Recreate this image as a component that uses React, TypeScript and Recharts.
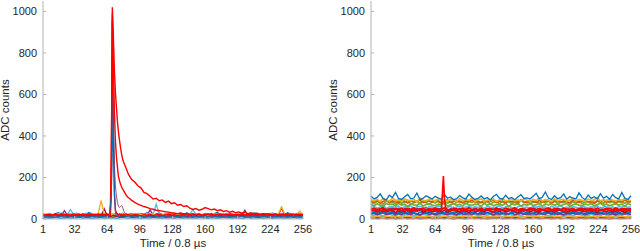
import React from 'react';
import { LineChart, Line, XAxis, YAxis } from 'recharts';

// sample times (every 3rd sample)
const tCoarse = [1, 4, 7, 10, 13, 16, 19, 22, 25, 28, 31, 34, 37, 40, 43, 46, 49, 52, 55, 58, 61, 64, 67, 70, 73, 76, 79, 82, 85, 88, 91, 94, 97, 100, 103, 106, 109, 112, 115, 118, 121, 124, 127, 130, 133, 136, 139, 142, 145, 148, 151, 154, 157, 160, 163, 166, 169, 172, 175, 178, 181, 184, 187, 190, 193, 196, 199, 202, 205, 208, 211, 214, 217, 220, 223, 226, 229, 232, 235, 238, 241, 244, 247, 250, 253, 256];
// denser sampling round the pulse (left panel)
const tPulse = [1, 4, 7, 10, 13, 16, 19, 22, 25, 28, 31, 34, 37, 40, 43, 46, 49, 52, 55, 58, 61, 64, 65, 66, 67, 68, 69, 70, 71, 72, 73, 74, 75, 76, 77, 78, 79, 80, 81, 82, 83, 84, 85, 88, 91, 94, 97, 100, 103, 106, 109, 112, 115, 118, 121, 124, 127, 130, 133, 136, 139, 142, 145, 148, 151, 154, 157, 160, 163, 166, 169, 172, 175, 178, 181, 184, 187, 190, 193, 196, 199, 202, 205, 208, 211, 214, 217, 220, 223, 226, 229, 232, 235, 238, 241, 244, 247, 250, 253, 256];
// right panel spike trace
const tSpike = [1, 4, 7, 10, 13, 16, 19, 22, 25, 28, 31, 34, 37, 40, 43, 46, 49, 52, 55, 58, 61, 64, 67, 70, 71, 72, 73, 74, 75, 76, 79, 82, 85, 88, 91, 94, 97, 100, 103, 106, 109, 112, 115, 118, 121, 124, 127, 130, 133, 136, 139, 142, 145, 148, 151, 154, 157, 160, 163, 166, 169, 172, 175, 178, 181, 184, 187, 190, 193, 196, 199, 202, 205, 208, 211, 214, 217, 220, 223, 226, 229, 232, 235, 238, 241, 244, 247, 250, 253, 256];

const xTicks = [1, 32, 64, 96, 128, 160, 192, 224, 256];
const yTicks = [0, 200, 400, 600, 800, 1000];

// ---- left panel: baseline noise ----
const lBlue = [24, 21, 27, 19, 25, 30, 22, 18, 26, 23, 20, 28, 24, 17, 22, 31, 25, 21, 19, 27, 23, 26, 20, 24, 29, 18, 22, 25, 21, 27, 24, 19, 26, 23, 30, 21, 17, 25, 28, 22, 20, 24, 27, 19, 23, 26, 21, 29, 24, 18, 22, 25, 20, 27, 23, 19, 26, 31, 22, 24, 21, 28, 23, 18, 25, 27, 20, 24, 22, 29, 26, 19, 23, 25, 21, 28, 24, 20, 26, 23, 30, 22, 19, 25, 27, 24];
const lOrange = [14, 17, 12, 16, 19, 13, 15, 18, 11, 16, 14, 20, 13, 15, 17, 12, 16, 14, 19, 13, 15, 17, 12, 18, 14, 16, 13, 15, 20, 12, 17, 14, 16, 13, 18, 15, 11, 16, 14, 19, 13, 15, 17, 12, 16, 14, 18, 13, 15, 17, 12, 16, 19, 14, 13, 17, 15, 12, 18, 14, 16, 13, 15, 19, 12, 17, 14, 16, 13, 15, 18, 12, 16, 14, 17, 13, 15, 19, 14, 16, 12, 17, 15, 13, 16, 14];
const lYellow = [22, 18, 25, 20, 16, 23, 27, 19, 21, 24, 18, 26, 20, 22, 17, 25, 21, 19, 23, 90, 24, 20, 18, 26, 22, 19, 25, 21, 17, 23, 27, 20, 22, 18, 24, 21, 26, 19, 23, 20, 17, 25, 22, 28, 19, 21, 24, 18, 26, 20, 23, 19, 22, 25, 17, 21, 24, 20, 27, 18, 22, 25, 19, 23, 21, 26, 18, 24, 20, 22, 27, 19, 23, 21, 25, 18, 22, 26, 58, 24, 20, 23, 19, 25, 38, 21];
const lPurple = [16, 19, 14, 18, 21, 15, 17, 40, 19, 16, 20, 14, 18, 22, 15, 17, 19, 13, 16, 20, 18, 15, 21, 17, 14, 19, 16, 22, 18, 15, 17, 20, 14, 19, 16, 45, 18, 21, 15, 17, 19, 14, 20, 16, 18, 22, 15, 17, 19, 13, 16, 21, 18, 15, 20, 17, 14, 19, 16, 22, 18, 15, 17, 20, 14, 19, 42, 16, 21, 18, 15, 17, 20, 14, 19, 16, 22, 18, 15, 17, 20, 14, 19, 16, 18, 21];
const lGreen = [11, 13, 9, 14, 12, 10, 15, 12, 8, 13, 11, 14, 10, 12, 15, 9, 13, 11, 14, 10, 12, 15, 9, 13, 11, 14, 12, 10, 13, 16, 11, 9, 14, 12, 10, 13, 15, 11, 12, 9, 14, 12, 10, 13, 11, 15, 12, 9, 14, 11, 13, 10, 12, 16, 11, 13, 9, 14, 12, 10, 15, 11, 13, 12, 9, 14, 11, 13, 10, 12, 15, 11, 9, 13, 12, 14, 10, 13, 11, 15, 12, 10, 14, 11, 13, 12];
const lLightBlue = [24, 20, 27, 22, 19, 25, 29, 21, 23, 45, 22, 26, 20, 24, 28, 21, 19, 25, 23, 27, 20, 24, 22, 26, 19, 23, 28, 21, 25, 20, 24, 27, 22, 19, 26, 23, 21, 72, 24, 20, 27, 22, 25, 19, 23, 28, 21, 24, 20, 46, 22, 26, 19, 24, 21, 27, 23, 20, 25, 22, 28, 19, 24, 21, 26, 23, 20, 25, 22, 27, 19, 24, 21, 26, 23, 28, 20, 22, 25, 21, 24, 27, 20, 23, 26, 22];
const lDarkRed = [13, 16, 11, 15, 18, 12, 14, 17, 10, 15, 13, 19, 12, 14, 16, 11, 15, 13, 17, 12, 50, 16, 12, 18, 13, 15, 11, 14, 17, 12, 16, 13, 15, 10, 14, 17, 12, 15, 13, 18, 11, 14, 16, 12, 15, 13, 17, 11, 14, 16, 12, 15, 18, 13, 11, 16, 14, 12, 17, 13, 15, 11, 14, 18, 12, 16, 13, 15, 11, 14, 17, 12, 15, 13, 16, 11, 14, 18, 55, 15, 12, 14, 17, 11, 16, 13];
const lBlueLow = [5, 7, 4, 6, 8, 5, 3, 6, 7, 4, 6, 5, 8, 4, 6, 7, 3, 5, 6, 8, 4, 6, 5, 7, 3, 6, 8, 5, 4, 7, 6, 5, 3, 7, 6, 4, 8, 5, 6, 4, 7, 5, 6, 3, 8, 6, 4, 7, 5, 6, 4, 8, 5, 6, 3, 7, 5, 4, 6, 8, 5, 6, 4, 7, 5, 3, 6, 8, 4, 5, 7, 6, 4, 5, 8, 3, 6, 5, 7, 4, 6, 5, 8, 4, 6, 5];

// ---- left panel: pulse traces (on tPulse) ----
const pRedLong = [20, 17, 23, 19, 22, 18, 25, 21, 16, 20, 24, 19, 22, 17, 21, 25, 18, 20, 23, 19, 22, 20,
  21, 19, 24, 180, 1020, 880, 720, 610, 540, 470, 420, 380, 345, 315, 290, 275, 262, 250, 238, 225, 214,
  190, 178, 160, 150, 128, 122, 110, 96, 100, 88, 92, 80, 86, 74, 78, 66, 70, 60, 64, 52, 46, 50, 42, 47, 55, 50, 44, 48, 40, 44, 36, 40, 33, 37, 30, 34, 28, 32, 26, 30, 24, 28, 22, 26, 21, 25, 20, 24, 19, 23, 18, 22, 20, 24, 19, 22, 20];
const pRedMid = [18, 22, 16, 20, 24, 17, 19, 23, 21, 15, 19, 22, 18, 24, 16, 20, 21, 17, 23, 18, 20, 19,
  20, 22, 18, 150, 990, 760, 520, 380, 300, 250, 205, 185, 168, 155, 145, 138, 128, 120, 112, 106, 102,
  90, 80, 72, 66, 60, 56, 50, 47, 42, 40, 38, 35, 33, 30, 28, 26, 29, 24, 27, 22, 25, 21, 24, 19, 23, 20, 25, 18, 22, 24, 19, 21, 23, 18, 22, 20, 24, 19, 21, 17, 23, 20, 22, 18, 24, 19, 21, 23, 20, 18, 22, 25, 19, 21, 23, 20, 18];
const pRedFast = [17, 21, 15, 19, 23, 16, 20, 18, 22, 14, 18, 21, 17, 23, 19, 15, 20, 22, 16, 19, 21, 18,
  19, 17, 22, 300, 960, 400, 120, 45, 28, 22, 19, 24, 18, 21, 17, 23, 20, 18, 22, 19, 21,
  17, 22, 19, 15, 21, 18, 23, 16, 20, 22, 17, 19, 24, 18, 21, 16, 20, 23, 19, 17, 22, 18, 21, 15, 20, 24, 19, 17, 22, 18, 20, 23, 16, 21, 19, 18, 22, 17, 20, 24, 19, 16, 21, 18, 23, 20, 17, 22, 19, 15, 21, 18, 24, 20, 17, 22, 19];
const pBlue = [12, 15, 10, 14, 17, 11, 13, 16, 9, 14, 12, 15, 11, 13, 16, 10, 14, 12, 15, 11, 13, 14,
  12, 15, 60, 110, 320, 590, 140, 35, 16, 12, 15, 11, 13, 16, 10, 14, 12, 15, 11, 13, 14,
  12, 15, 10, 14, 13, 16, 11, 14, 12, 15, 10, 13, 16, 11, 14, 12, 15, 10, 13, 17, 11, 14, 12, 15, 10, 13, 16, 12, 14, 11, 15, 13, 10, 14, 12, 16, 11, 13, 15, 10, 14, 12, 16, 11, 13, 15, 10, 14, 12, 13, 16, 11, 14, 12, 15, 10, 13];
const pMauve = [10, 13, 8, 12, 15, 9, 11, 14, 7, 12, 10, 13, 9, 11, 14, 8, 12, 10, 13, 9, 11, 12,
  11, 14, 20, 250, 600, 420, 260, 160, 110, 80, 62, 55, 60, 65, 58, 42, 32, 26, 22, 18, 16,
  13, 10, 15, 9, 12, 14, 11, 8, 13, 10, 15, 12, 9, 14, 11, 10, 13, 16, 9, 12, 11, 14, 10, 13, 8, 12, 15, 11, 9, 13, 10, 14, 12, 8, 15, 11, 13, 9, 12, 14, 10, 16, 11, 13, 9, 12, 10, 14, 11, 15, 8, 13, 12, 10, 14, 11, 12];

// ---- right panel: noise band ----
const rBlueTop = [110, 96, 104, 121, 98, 92, 115, 103, 128, 99, 94, 107, 118, 97, 101, 125, 93, 99, 112, 104, 96, 109, 101, 95, 118, 100, 106, 93, 98, 113, 102, 97, 120, 105, 94, 99, 111, 96, 103, 92, 108, 119, 100, 95, 114, 98, 104, 93, 106, 117, 99, 102, 96, 110, 124, 97, 105, 130, 101, 94, 112, 98, 103, 121, 95, 108, 100, 97, 126, 104, 93, 115, 99, 107, 96, 122, 101, 109, 95, 118, 103, 97, 128, 100, 94, 112];
const rYellow = [92, 87, 95, 84, 98, 90, 86, 101, 89, 93, 85, 97, 91, 88, 94, 83, 99, 90, 87, 96, 92, 85, 100, 89, 93, 86, 95, 91, 84, 98, 88, 94, 90, 103, 86, 92, 97, 85, 91, 89, 96, 84, 93, 99, 87, 90, 95, 88, 92, 86, 98, 91, 85, 94, 89, 102, 87, 93, 90, 84, 97, 88, 92, 95, 86, 91, 99, 87, 94, 90, 85, 96, 89, 92, 104, 87, 93, 88, 97, 91, 86, 95, 89, 100, 92, 88];
const rOrange = [86, 81, 89, 78, 84, 92, 80, 87, 83, 79, 90, 85, 77, 88, 82, 86, 91, 79, 84, 87, 81, 89, 83, 78, 86, 92, 80, 85, 88, 82, 79, 87, 84, 90, 81, 86, 78, 89, 83, 85, 91, 80, 87, 82, 79, 88, 84, 86, 81, 93, 83, 78, 87, 85, 80, 89, 82, 86, 90, 79, 84, 88, 81, 87, 83, 78, 91, 85, 80, 86, 89, 82, 84, 79, 87, 83, 90, 81, 85, 88, 80, 86, 83, 91, 84, 82];
const rGreen = [80, 74, 85, 77, 71, 88, 79, 82, 73, 86, 76, 81, 90, 72, 78, 84, 75, 87, 79, 70, 83, 77, 89, 74, 81, 76, 85, 72, 80, 87, 78, 73, 84, 79, 91, 75, 82, 77, 86, 71, 80, 85, 74, 88, 78, 83, 76, 81, 72, 89, 79, 84, 75, 80, 87, 73, 82, 78, 85, 76, 90, 74, 81, 79, 86, 72, 83, 77, 88, 75, 80, 84, 78, 73, 87, 81, 76, 89, 79, 83, 74, 85, 80, 77, 82, 86];
const rGreen2 = [70, 64, 73, 67, 61, 75, 69, 72, 63, 76, 66, 71, 60, 74, 68, 65, 77, 62, 70, 73, 67, 64, 72, 69, 75, 61, 68, 74, 66, 71, 63, 77, 69, 65, 72, 70, 62, 75, 67, 73, 64, 69, 71, 66, 76, 60, 72, 68, 74, 63, 70, 67, 73, 65, 69, 76, 62, 71, 68, 74, 66, 72, 64, 70, 75, 61, 69, 73, 67, 65, 71, 68, 74, 63, 70, 76, 66, 72, 64, 69, 73, 67, 71, 62, 75, 68];
const rLightBlue = [55, 61, 52, 58, 64, 50, 57, 60, 54, 62, 49, 59, 56, 63, 51, 58, 61, 55, 48, 60, 57, 53, 64, 59, 52, 56, 62, 50, 58, 61, 54, 57, 63, 51, 59, 55, 60, 49, 62, 56, 53, 58, 64, 52, 57, 61, 55, 50, 59, 63, 54, 57, 51, 60, 56, 62, 53, 58, 49, 61, 55, 59, 64, 52, 57, 54, 60, 56, 51, 62, 58, 53, 59, 55, 63, 50, 57, 61, 54, 58, 52, 60, 56, 62, 55, 59];
const rPurple = [46, 52, 43, 50, 55, 41, 48, 53, 45, 51, 40, 49, 54, 44, 47, 52, 42, 50, 56, 45, 48, 43, 51, 47, 53, 40, 49, 55, 44, 50, 46, 42, 52, 48, 54, 41, 47, 51, 45, 49, 53, 43, 50, 46, 55, 42, 48, 52, 44, 47, 51, 40, 49, 54, 45, 50, 43, 48, 53, 46, 41, 52, 47, 50, 44, 55, 49, 42, 51, 46, 53, 45, 48, 40, 50, 54, 43, 47, 52, 45, 49, 44, 51, 47, 53, 48];
const rDarkRed = [37, 42, 33, 40, 45, 35, 39, 43, 31, 38, 41, 36, 44, 34, 40, 37, 46, 32, 39, 42, 35, 38, 43, 36, 41, 33, 40, 45, 37, 34, 42, 38, 31, 44, 36, 39, 41, 35, 43, 38, 33, 40, 37, 45, 34, 39, 42, 36, 31, 40, 38, 44, 35, 41, 37, 33, 43, 39, 36, 42, 34, 40, 45, 37, 32, 39, 41, 36, 43, 38, 35, 42, 37, 40, 33, 44, 38, 36, 41, 34, 39, 43, 37, 32, 40, 38];
const rBlue = [28, 33, 25, 31, 36, 27, 30, 34, 24, 29, 32, 26, 35, 28, 31, 23, 33, 30, 27, 34, 29, 25, 32, 36, 28, 31, 26, 33, 30, 24, 35, 29, 27, 32, 30, 25, 34, 28, 31, 26, 33, 29, 36, 27, 30, 24, 32, 35, 28, 31, 26, 33, 29, 25, 34, 30, 27, 32, 28, 36, 24, 31, 29, 33, 26, 30, 35, 27, 32, 28, 25, 34, 30, 31, 27, 33, 29, 24, 32, 30, 28, 35, 26, 31, 29, 33];
const rPurpleLow = [24, 28, 21, 26, 30, 22, 25, 29, 20, 27, 23, 31, 25, 22, 28, 24, 19, 26, 30, 23, 27, 21, 25, 29, 24, 22, 28, 26, 20, 30, 25, 23, 27, 21, 29, 24, 26, 22, 31, 25, 20, 27, 24, 28, 23, 26, 30, 21, 25, 28, 22, 26, 24, 29, 21, 27, 25, 23, 30, 24, 28, 22, 26, 20, 27, 25, 29, 23, 24, 28, 21, 26, 30, 25, 22, 27, 24, 29, 23, 26, 20, 28, 25, 24, 27, 22];
const rLightBlueLow = [21, 17, 24, 19, 15, 22, 26, 18, 20, 23, 16, 21, 25, 19, 14, 22, 18, 24, 20, 17, 23, 19, 15, 21, 26, 18, 22, 20, 16, 24, 19, 23, 17, 21, 25, 15, 20, 22, 18, 24, 16, 21, 19, 23, 17, 26, 20, 18, 22, 15, 24, 19, 21, 17, 23, 20, 25, 18, 16, 22, 19, 24, 21, 15, 20, 23, 17, 22, 26, 18, 21, 16, 24, 19, 22, 18, 25, 20, 17, 23, 15, 21, 19, 24, 20, 22];
const rYellowLow = [12, 9, 15, 11, 8, 14, 13, 10, 16, 11, 9, 13, 15, 12, 8, 14, 10, 13, 11, 16, 9, 12, 14, 10, 15, 11, 8, 13, 12, 14, 10, 16, 11, 9, 13, 15, 12, 8, 14, 10, 13, 11, 15, 9, 12, 14, 10, 16, 11, 13, 8, 12, 15, 10, 14, 11, 9, 13, 12, 16, 10, 14, 11, 8, 13, 15, 12, 9, 14, 11, 16, 10, 12, 13, 9, 15, 11, 14, 10, 12, 8, 13, 15, 11, 9, 14];
const rBlueLow = [8, 11, 6, 9, 12, 7, 10, 8, 13, 6, 9, 11, 7, 10, 8, 12, 6, 9, 11, 8, 10, 7, 13, 9, 6, 11, 8, 10, 12, 7, 9, 6, 11, 8, 10, 13, 7, 9, 11, 8, 6, 10, 12, 7, 9, 8, 11, 6, 10, 13, 8, 9, 7, 11, 10, 6, 12, 8, 9, 11, 7, 10, 8, 13, 6, 9, 11, 8, 10, 7, 12, 9, 6, 10, 11, 8, 7, 12, 9, 10, 6, 11, 8, 9, 12, 7];
const rOrangeLow = [3, 5, 2, 4, 6, 2, 3, 5, 1, 4, 3, 6, 2, 4, 3, 5, 1, 3, 4, 6, 2, 4, 3, 5, 2, 6, 3, 1, 4, 5, 3, 2, 4, 6, 3, 5, 2, 4, 1, 3, 5, 3, 6, 2, 4, 3, 5, 2, 4, 3, 1, 5, 3, 4, 6, 2, 3, 5, 4, 2, 3, 6, 2, 4, 5, 3, 1, 4, 3, 5, 2, 4, 6, 3, 2, 5, 3, 4, 1, 3, 5, 2, 4, 3, 6, 3];
const rRed = [47, 51, 44, 49, 53, 45, 48, 42, 50, 46, 52, 44, 49, 47, 54, 43, 48, 51, 45, 50, 46, 53, 44, 48, 52, 47, 43, 50, 49, 45, 51, 47, 54, 44, 48, 46, 52, 43, 50, 49, 45, 53, 47, 44, 51, 48, 46, 54, 43, 50, 47, 45, 52, 49, 44, 51, 46, 48, 53, 45, 50, 47, 43, 52, 48, 46, 51, 44, 49, 53, 45, 48, 50, 46, 52, 44, 47, 51, 49, 45, 53, 46, 48, 50, 44, 49];
const rRedSpike = [44, 39, 47, 41, 36, 45, 43, 38, 48, 40, 35, 46, 42, 39, 44, 37, 49, 41, 43, 38, 45, 40, 36, 44,
  120, 207, 105, 55, 46,
  42, 38, 45, 40, 47, 36, 43, 41, 39, 46, 44, 37, 42, 48, 40, 35, 43, 45, 39, 41, 47, 38, 44, 42, 36, 46, 40, 43, 49, 37, 41, 45, 39, 44, 42, 38, 47, 40, 36, 43, 45, 41, 39, 48, 42, 37, 44, 40, 46, 38, 43, 41, 47, 39, 45, 36, 42, 44, 40, 46, 41];

const C = {
  blue: '#0072BD',
  orange: '#D95319',
  yellow: '#EDB120',
  purple: '#7E2F8E',
  green: '#77AC30',
  lightBlue: '#4DBEEE',
  darkRed: '#A2142F',
  red: '#FF0000',
  mauve: '#9C4A78',
};

type Trace = { ts: number[]; vs: number[]; color: string; width?: number };

const pts = (ts: number[], vs: number[]) => ts.map((t, i) => ({ t, v: vs[i] }));

const leftTraces: Trace[] = [
  { ts: tCoarse, vs: lBlueLow, color: C.blue, width: 1.3 },
  { ts: tCoarse, vs: lGreen, color: C.green, width: 1.3 },
  { ts: tCoarse, vs: lOrange, color: C.orange, width: 1.3 },
  { ts: tCoarse, vs: lPurple, color: C.purple, width: 1.3 },
  { ts: tCoarse, vs: lBlue, color: C.blue, width: 1.3 },
  { ts: tCoarse, vs: lLightBlue, color: C.lightBlue, width: 1.3 },
  { ts: tCoarse, vs: lDarkRed, color: C.darkRed, width: 1.3 },
  { ts: tCoarse, vs: lYellow, color: C.yellow, width: 1.3 },
  { ts: tPulse, vs: pMauve, color: C.mauve },
  { ts: tPulse, vs: pRedFast, color: C.red, width: 1.4 },
  { ts: tPulse, vs: pRedMid, color: C.red, width: 1.4 },
  { ts: tPulse, vs: pRedLong, color: C.red, width: 1.4 },
  { ts: tPulse, vs: pBlue, color: C.blue },
];

const rightTraces: Trace[] = [
  { ts: tCoarse, vs: rOrangeLow, color: C.orange, width: 1.7 },
  { ts: tCoarse, vs: rBlueLow, color: C.blue, width: 1.7 },
  { ts: tCoarse, vs: rYellowLow, color: C.yellow, width: 1.7 },
  { ts: tCoarse, vs: rLightBlueLow, color: C.lightBlue, width: 1.7 },
  { ts: tCoarse, vs: rPurpleLow, color: C.purple, width: 1.7 },
  { ts: tCoarse, vs: rBlue, color: C.blue, width: 1.7 },
  { ts: tCoarse, vs: rDarkRed, color: C.darkRed, width: 1.7 },
  { ts: tCoarse, vs: rPurple, color: C.purple, width: 1.7 },
  { ts: tCoarse, vs: rLightBlue, color: C.lightBlue, width: 1.7 },
  { ts: tCoarse, vs: rGreen2, color: C.green, width: 1.7 },
  { ts: tCoarse, vs: rGreen, color: C.green, width: 1.7 },
  { ts: tCoarse, vs: rOrange, color: C.orange, width: 1.7 },
  { ts: tCoarse, vs: rYellow, color: C.yellow, width: 1.7 },
  { ts: tCoarse, vs: rBlueTop, color: C.blue, width: 1.3 },
  { ts: tCoarse, vs: rRed, color: C.red, width: 1.6 },
  { ts: tSpike, vs: rRedSpike, color: C.red, width: 1.6 },
];

const FONT = '"Liberation Sans", Arial, Helvetica, sans-serif';
const TXT = '#262626';
const BOX = '#b3b3b3';

const Panel = ({ traces, left, right }: { traces: Trace[]; left: number; right: number }) => (
  <LineChart width={320} height={251} margin={{ top: 1, right, bottom: 2, left }} style={{ fontFamily: FONT }}>
    <XAxis
      xAxisId="b"
      type="number"
      dataKey="t"
      domain={[1, 256]}
      ticks={xTicks}
      interval={0}
      height={30}
      stroke={BOX}
      tickSize={-3}
      tickMargin={9}
      tick={{ fill: TXT, fontSize: 11 }}
      label={{ value: 'Time / 0.8 µs', position: 'insideBottom', offset: 2, fill: TXT, fontSize: 11.5 }}
    />
    <XAxis
      xAxisId="top"
      orientation="top"
      type="number"
      dataKey="t"
      domain={[1, 256]}
      ticks={xTicks}
      interval={0}
      height={0}
      stroke={BOX}
      tickSize={-3}
      tick={false}
    />
    <YAxis
      yAxisId="l"
      type="number"
      domain={[0, 1050]}
      ticks={yTicks}
      interval={0}
      width={43}
      stroke={BOX}
      tickSize={-3}
      tickMargin={9}
      tick={{ fill: TXT, fontSize: 11 }}
      label={{ value: 'ADC counts', angle: -90, position: 'insideLeft', offset: 5, fill: TXT, fontSize: 11.5, style: { textAnchor: 'middle' } }}
    />
    <YAxis
      yAxisId="r"
      orientation="right"
      type="number"
      domain={[0, 1050]}
      ticks={yTicks}
      interval={0}
      width={0}
      stroke={BOX}
      tickSize={-3}
      tick={false}
    />
    {traces.map((tr, i) => (
      <Line
        key={i}
        xAxisId="b"
        yAxisId="l"
        data={pts(tr.ts, tr.vs)}
        dataKey="v"
        type="linear"
        stroke={tr.color}
        strokeWidth={tr.width ?? 1}
        dot={false}
        activeDot={false}
        isAnimationActive={false}
      />
    ))}
  </LineChart>
);

export default function App() {
  return (
    <div style={{ position: 'absolute', left: 0, top: 0, width: 640, height: 251, display: 'flex', background: '#fff' }}>
      <Panel traces={leftTraces} left={0} right={17} />
      <Panel traces={rightTraces} left={8} right={9} />
    </div>
  );
}
